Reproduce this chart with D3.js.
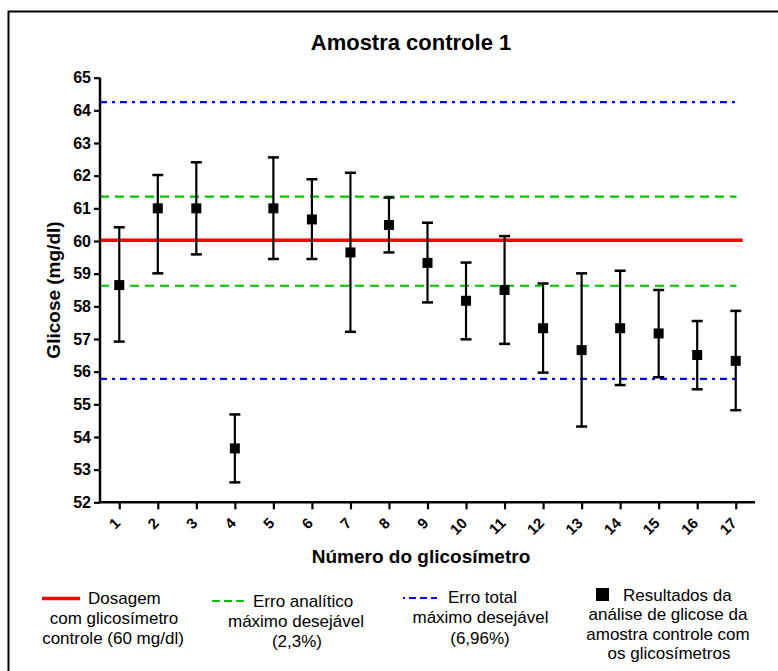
<!DOCTYPE html>
<html>
<head>
<meta charset="utf-8">
<script src="https://cdn.jsdelivr.net/npm/d3@7/dist/d3.min.js"></script>
<style>
  html, body { margin: 0; padding: 0; background: #fff; }
  svg { display: block; font-family: "Liberation Sans", Arial, sans-serif; }
</style>
</head>
<body>
<svg id="chart" width="778" height="671"></svg>
<script>
// ---- data ----
const glucometers = [1,2,3,4,5,6,7,8,9,10,11,12,13,14,15,16,17];
const means = [58.65, 61.0, 61.0, 53.65, 61.0, 60.66, 59.65, 60.49, 59.33, 58.17, 58.5, 57.33, 56.66, 57.33, 57.17, 56.51, 56.33];
const upper = [60.42, 62.02, 62.41, 54.69, 62.56, 61.89, 62.09, 61.33, 60.56, 59.34, 60.15, 58.70, 59.01, 59.09, 58.50, 57.55, 57.86];
const lower = [56.92, 59.01, 59.59, 52.61, 59.45, 59.45, 57.22, 59.65, 58.12, 56.99, 56.85, 55.97, 54.32, 55.59, 55.83, 55.46, 54.82];
const yTicks = [52,53,54,55,56,57,58,59,60,61,62,63,64,65];
const controlValue = [60.02];
const analyticError = [61.36, 58.63];
const totalError = [64.25, 55.78];

const title = "Amostra controle 1";
const xTitle = "Número do glicosímetro";
const yTitle = "Glicose (mg/dl)";

const svg = d3.select("#chart");
const x = d3.scaleLinear().domain([0.5, 17.5]).range([100, 755]);
const y = d3.scaleLinear().domain([52, 65]).range([502.3, 77.7]);

// outer frame
svg.append("rect").attr("x", 8.5).attr("y", 11.5).attr("width", 800).attr("height", 700)
  .attr("fill", "none").attr("stroke", "#000").attr("stroke-width", 2);

// title
svg.append("text").attr("x", 411).attr("y", 50).attr("text-anchor", "middle")
  .attr("font-weight", "bold").attr("font-size", 22).text(title);

// reference lines
const refG = svg.append("g");
refG.selectAll("line.tot").data(totalError).join("line").attr("class", "tot")
  .attr("x1", x(0.5)).attr("x2", x(17.11)).attr("y1", d => y(d)).attr("y2", d => y(d))
  .attr("stroke", "#0000ff").attr("stroke-width", 2.2).attr("stroke-dasharray", "7,5,3,5");
refG.selectAll("line.ana").data(analyticError).join("line").attr("class", "ana")
  .attr("x1", x(0.5)).attr("x2", x(17.02)).attr("y1", d => y(d)).attr("y2", d => y(d))
  .attr("stroke", "#00c000").attr("stroke-width", 2.2).attr("stroke-dasharray", "9,6");
refG.selectAll("line.ctl").data(controlValue).join("line").attr("class", "ctl")
  .attr("x1", x(0.5)).attr("x2", x(17.18)).attr("y1", d => y(d)).attr("y2", d => y(d))
  .attr("stroke", "#ff0000").attr("stroke-width", 3.5);

// error bars
const pts = glucometers.map((g, i) => ({g, m: means[i], hi: upper[i], lo: lower[i]}));
const eb = svg.append("g").selectAll("g").data(pts).join("g");
eb.append("line").attr("x1", d => x(d.g)).attr("x2", d => x(d.g))
  .attr("y1", d => y(d.hi)).attr("y2", d => y(d.lo)).attr("stroke", "#000").attr("stroke-width", 2.2);
eb.append("line").attr("x1", d => x(d.g) - 5.5).attr("x2", d => x(d.g) + 5.5)
  .attr("y1", d => y(d.hi)).attr("y2", d => y(d.hi)).attr("stroke", "#000").attr("stroke-width", 2.5);
eb.append("line").attr("x1", d => x(d.g) - 5.5).attr("x2", d => x(d.g) + 5.5)
  .attr("y1", d => y(d.lo)).attr("y2", d => y(d.lo)).attr("stroke", "#000").attr("stroke-width", 2.5);
eb.append("rect").attr("x", d => x(d.g) - 5).attr("y", d => y(d.m) - 5)
  .attr("width", 10).attr("height", 10).attr("fill", "#000");

// y axis
const yAxis = svg.append("g").attr("transform", `translate(${x(0.5)},0)`)
  .call(d3.axisLeft(y).tickValues(yTicks).tickSize(6).tickPadding(3).tickFormat(d3.format("d")));
yAxis.select(".domain").attr("stroke-width", 2.5).attr("d", `M0,${y(65)}V${y(52)}`);
yAxis.selectAll(".tick line").attr("stroke-width", 2.2);
yAxis.selectAll(".tick text").attr("font-size", 16).attr("font-weight", "bold")
  .attr("font-family", "'Liberation Sans', Arial, sans-serif").attr("fill", "#000");

// x axis
const xAxis = svg.append("g").attr("transform", `translate(0,${y(52)})`)
  .call(d3.axisBottom(x).tickValues(glucometers).tickSize(7).tickFormat(() => ""));
xAxis.select(".domain").attr("stroke-width", 2.5).attr("d", `M${x(0.5) - 1.2},0H${x(17.5)}`);
xAxis.selectAll(".tick line").attr("stroke-width", 2.2);
svg.append("g").selectAll("text").data(glucometers).join("text")
  .attr("transform", d => `translate(${x(d) + 2},524) rotate(-45)`)
  .attr("text-anchor", "end").attr("font-size", 15).attr("font-weight", "bold").text(d => d);

// axis titles
svg.append("text").attr("x", 421).attr("y", 563).attr("text-anchor", "middle")
  .attr("font-weight", "bold").attr("font-size", 19).text(xTitle);
svg.append("text").attr("transform", `translate(60,${(y(52) + y(65)) / 2}) rotate(-90)`)
  .attr("text-anchor", "middle").attr("font-weight", "bold").attr("font-size", 19).text(yTitle);

// legend
const leg = svg.append("g").attr("font-size", 17);
// item 1
leg.append("line").attr("x1", 42).attr("x2", 80).attr("y1", 598.5).attr("y2", 598.5)
  .attr("stroke", "#ff0000").attr("stroke-width", 3.5);
leg.append("text").attr("x", 88).attr("y", 604).text("Dosagem");
leg.append("text").attr("x", 114).attr("y", 624).attr("text-anchor", "middle").text("com glicosímetro");
leg.append("text").attr("x", 113).attr("y", 644).attr("text-anchor", "middle").text("controle (60 mg/dl)");
// item 2
leg.append("line").attr("x1", 212).attr("x2", 244).attr("y1", 601).attr("y2", 601)
  .attr("stroke", "#00c000").attr("stroke-width", 2.2).attr("stroke-dasharray", "8,4");
leg.append("text").attr("x", 253).attr("y", 607).text("Erro analítico");
leg.append("text").attr("x", 296).attr("y", 627).attr("text-anchor", "middle").text("máximo desejável");
leg.append("text").attr("x", 297).attr("y", 646.5).attr("text-anchor", "middle").text("(2,3%)");
// item 3
leg.append("line").attr("x1", 403).attr("x2", 437).attr("y1", 598).attr("y2", 598)
  .attr("stroke", "#0000ff").attr("stroke-width", 2.2).attr("stroke-dasharray", "2,4,7,4,7,4,7");
leg.append("text").attr("x", 448).attr("y", 603).text("Erro total");
leg.append("text").attr("x", 480.5).attr("y", 623).attr("text-anchor", "middle").text("máximo desejável");
leg.append("text").attr("x", 480).attr("y", 643.5).attr("text-anchor", "middle").text("(6,96%)");
// item 4
leg.append("rect").attr("x", 596).attr("y", 588).attr("width", 13).attr("height", 13).attr("fill", "#000");
leg.append("text").attr("x", 623).attr("y", 601).text("Resultados da");
leg.append("text").attr("x", 668).attr("y", 620).attr("text-anchor", "middle").text("análise de glicose da");
leg.append("text").attr("x", 668).attr("y", 640).attr("text-anchor", "middle").text("amostra controle com");
leg.append("text").attr("x", 669).attr("y", 658.5).attr("text-anchor", "middle").text("os glicosímetros");
</script>
</body>
</html>
